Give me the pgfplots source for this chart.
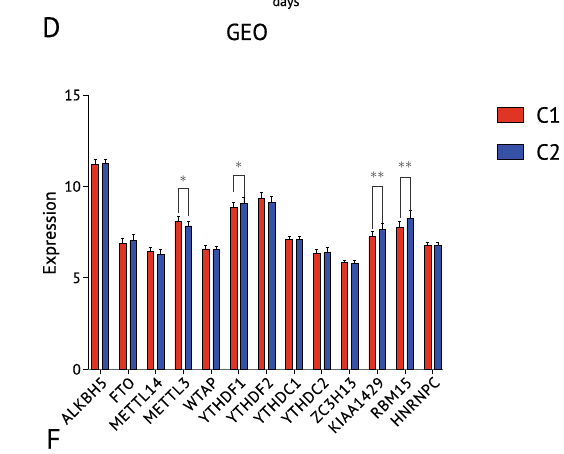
\documentclass[border=0pt]{standalone}
\usepackage{pgfplots}
\pgfplotsset{compat=1.18}
\usepackage{pgfplotstable}
\usepackage{fontspec}
\setmainfont{PT Sans}[FakeBold=0.5]
\definecolor{cred}{HTML}{E03424}
\definecolor{cblue}{HTML}{3552A8}

\pgfplotstableread{
x e y
-0.187 0.31 11.19
0.813 0.27 6.87
1.813 0.22 6.43
2.813 0.26 8.09
3.813 0.18 6.58
4.813 0.26 8.87
5.813 0.31 9.35
6.813 0.16 7.11
7.813 0.22 6.32
8.813 0.11 5.85
9.813 0.25 7.27
10.813 0.31 7.76
11.813 0.14 6.78
}\tableCone
\pgfplotstableread{
x e y
0.187 0.22 11.28
1.187 0.29 7.07
2.187 0.24 6.30
3.187 0.27 7.84
4.187 0.15 6.56
5.187 0.29 9.09
6.187 0.33 9.13
7.187 0.16 7.11
8.187 0.27 6.38
9.187 0.13 5.81
10.187 0.33 7.65
11.187 0.41 8.26
12.187 0.14 6.78
}\tableCtwo

\begin{document}
\begin{tikzpicture}[x=1pt,y=1pt]
\begin{axis}[
  at={(88pt,-369.3pt)}, anchor=south west,
  scale only axis, width=355pt, height=274.3pt,
  xmin=-0.44, xmax=12.37, ymin=0, ymax=15,
  axis lines=left,
  x axis line style={-, black!60, line width=0.8pt},
  y axis line style={-, black, line width=0.8pt},
  xtick={0,...,12},
  xticklabels={ALKBH5,FTO,METTL14,METTL3,WTAP,YTHDF1,YTHDF2,YTHDC1,YTHDC2,ZC3H13,KIAA1429,RBM15,HNRNPC},
  ytick={0,5,10,15},
  tick align=outside, major tick length=5pt,
  tick style={black, line width=0.8pt},
  /pgf/number format/assume math mode=true,
  xticklabel style={rotate=45, anchor=north east, font=\fontsize{15.5}{15.5}\selectfont\addfontfeature{LetterSpace=5}, inner sep=1pt},
  yticklabel style={font=\fontsize{15}{15}\selectfont, inner sep=2pt},
  ylabel={\fontsize{18}{18}\selectfont Expression},
  ylabel style={at={(axis description cs:-0.104,0.497)}, anchor=center},
  clip=false,
]
\addplot[ybar, bar width=0.235, bar shift=0, fill=cred, draw=black, line width=0.6pt,
  error bars/.cd, y dir=plus, y explicit,
  error bar style={black, line width=0.8pt},
  error mark options={rotate=90, mark size=1.5pt, black, line width=0.8pt}]
  table[x=x, y=y, y error=e] {\tableCone};
\addplot[ybar, bar width=0.235, bar shift=0, fill=cblue, draw=black, line width=0.6pt,
  error bars/.cd, y dir=plus, y explicit,
  error bar style={black, line width=0.8pt},
  error mark options={rotate=90, mark size=1.5pt, black, line width=0.8pt}]
  table[x=x, y=y, y error=e] {\tableCtwo};
% significance brackets
\addplot[black!80, line width=0.7pt, mark=none] coordinates {(2.813,8.53) (2.813,9.87) (3.187,9.87) (3.187,8.40)};
\addplot[black!80, line width=0.7pt, mark=none] coordinates {(4.813,9.68) (4.813,10.6) (5.187,10.6) (5.187,9.44)};
\addplot[black!80, line width=0.7pt, mark=none] coordinates {(9.813,7.67) (9.813,9.99) (10.187,9.99) (10.187,7.98)};
\addplot[black!80, line width=0.7pt, mark=none] coordinates {(10.813,8.30) (10.813,10.5) (11.187,10.5) (11.187,8.67)};
\node[black!80, inner sep=0pt, font=\fontsize{14}{14}\selectfont] at (axis cs:3,10.39) {$\ast$};
\node[black!80, inner sep=0pt, font=\fontsize{14}{14}\selectfont] at (axis cs:5,11.15) {$\ast$};
\node[black!80, inner sep=0pt, font=\fontsize{14}{14}\selectfont] at (axis cs:10,10.59) {$\ast\ast$};
\node[black!80, inner sep=0pt, font=\fontsize{14}{14}\selectfont] at (axis cs:11,11.15) {$\ast\ast$};
\end{axis}
% panel texts
\node[anchor=base west, inner sep=0pt, font=\fontsize{28}{28}\selectfont] at (42,-37) {D};
\node[anchor=base, inner sep=0pt, font=\fontsize{23}{23}\selectfont] at (247,-40) {GEO};
\node[anchor=base, inner sep=0pt, font=\fontsize{14}{14}\selectfont] at (286,-6) {days};
\node[anchor=base west, inner sep=0pt, font=\fontsize{28}{28}\selectfont] at (46,-448.7) {F};
% legend
\draw[fill=cred, draw=black, line width=0.6pt] (497.3,-107.3) rectangle (523.3,-122);
\draw[fill=cblue, draw=black, line width=0.6pt] (497.3,-144.3) rectangle (523.3,-159);
\node[anchor=base west, inner sep=0pt, font=\fontsize{22}{22}\selectfont] at (536,-122.7) {C1};
\node[anchor=base west, inner sep=0pt, font=\fontsize{22}{22}\selectfont] at (536,-159.7) {C2};
\pgfresetboundingbox
\path (0,0) rectangle (564,-454);
\end{tikzpicture}
\end{document}
